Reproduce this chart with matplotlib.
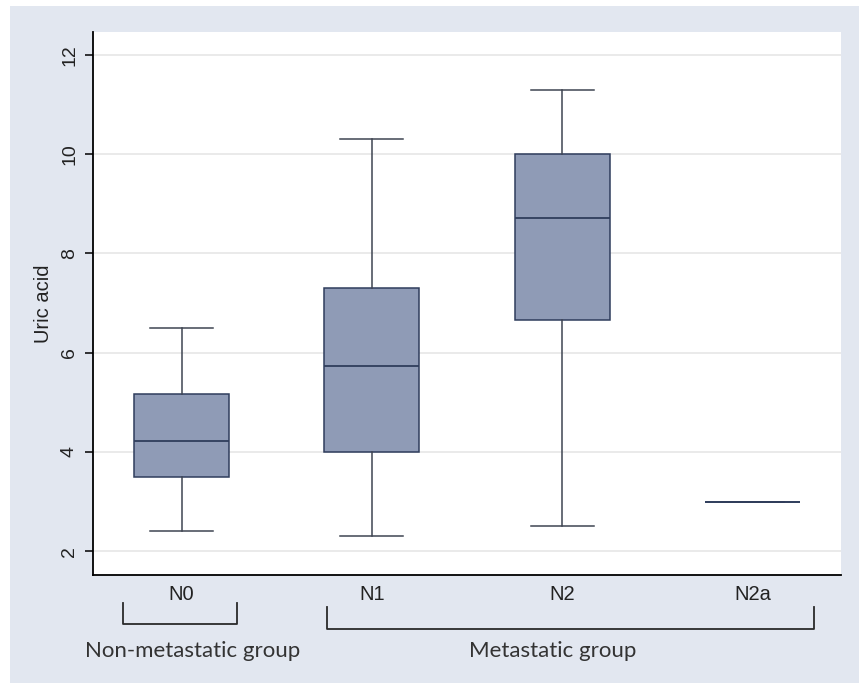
import matplotlib
matplotlib.use('Agg')
import matplotlib.pyplot as plt
import matplotlib.transforms as mtransforms
from matplotlib.patches import Rectangle

# box summary per N stage
groups = ['N0', 'N1', 'N2', 'N2a']
whisk_lo = [2.4, 2.3, 2.5, 3.0]
q1 = [3.5, 4.0, 6.65, 3.0]
median = [4.22, 5.74, 8.71, 3.0]
q3 = [5.17, 7.3, 10.0, 3.0]
whisk_hi = [6.5, 10.3, 11.3, 3.0]

y_ticks = [2, 4, 6, 8, 10, 12]
group_labels = ['Non-metastatic group', 'Metastatic group']

BG = '#e2e7f0'
BOX = '#8f9bb6'
EDGE = '#2f3d5c'
WHISK = '#3f4552'

fig = plt.figure(figsize=(8.59, 6.85), dpi=100)
fig.patches.append(Rectangle((10 / 859, 2 / 685), 1 - 10 / 859, 677 / 685,
                             transform=fig.transFigure, facecolor=BG,
                             edgecolor='none', zorder=-10))
ax = fig.add_axes([93 / 859, 1 - 575 / 685, (841 - 93) / 859, (575 - 32) / 685])
ax.set_facecolor('white')

positions = list(range(1, len(groups) + 1))
stats = []
for i, g in enumerate(groups):
    stats.append({'label': g, 'whislo': whisk_lo[i], 'q1': q1[i], 'med': median[i],
                  'q3': q3[i], 'whishi': whisk_hi[i], 'fliers': []})

ax.bxp(stats, positions=positions, widths=0.5, capwidths=0.33, patch_artist=True,
       showfliers=False,
       boxprops=dict(facecolor=BOX, edgecolor=EDGE, linewidth=1.1),
       medianprops=dict(color=EDGE, linewidth=1.3),
       whiskerprops=dict(color=WHISK, linewidth=1.1),
       capprops=dict(color=WHISK, linewidth=1.1))

ax.set_xlim(0.535, 4.465)
ax.set_ylim(1.52, 12.46)
ax.set_yticks(y_ticks)
ax.set_yticklabels([str(t) for t in y_ticks], rotation=90, va='center',
                   fontsize=14, family='Liberation Sans', color='#222222')
ax.set_xticks(positions)
ax.set_xticklabels(groups, fontsize=14.5, family='Liberation Sans', color='#222222')
ax.tick_params(axis='y', direction='out', length=5.8, width=1.1, pad=5)
ax.tick_params(axis='x', length=0, pad=7)
ax.yaxis.grid(True, color='#e6e6e6', linewidth=1.2)
ax.set_axisbelow(True)
ax.set_ylabel('Uric acid', fontsize=14.5, family='Liberation Sans', color='#222222', labelpad=6)

for side in ['top', 'right']:
    ax.spines[side].set_visible(False)
for side in ['left', 'bottom']:
    ax.spines[side].set_linewidth(1.3)
    ax.spines[side].set_color('black')

# group brackets under the x labels
trans = mtransforms.blended_transform_factory(ax.transData, ax.transAxes)
brackets = [(0.691, 1.290, -0.052, -0.090), (1.766, 4.325, -0.059, -0.099)]
label_x = [1.058, 2.952]
for (x0, x1, ytop, ybot), lx, txt in zip(brackets, label_x, group_labels):
    ax.plot([x0, x0, x1, x1], [ytop, ybot, ybot, ytop], color='#2a2a2a',
            linewidth=1.3, transform=trans, clip_on=False)
    ax.text(lx, -0.140, txt, transform=trans, ha='center', va='center',
            fontsize=16, family='Lato', color='#333333')

fig.savefig('out.png', dpi=100, facecolor='white')
